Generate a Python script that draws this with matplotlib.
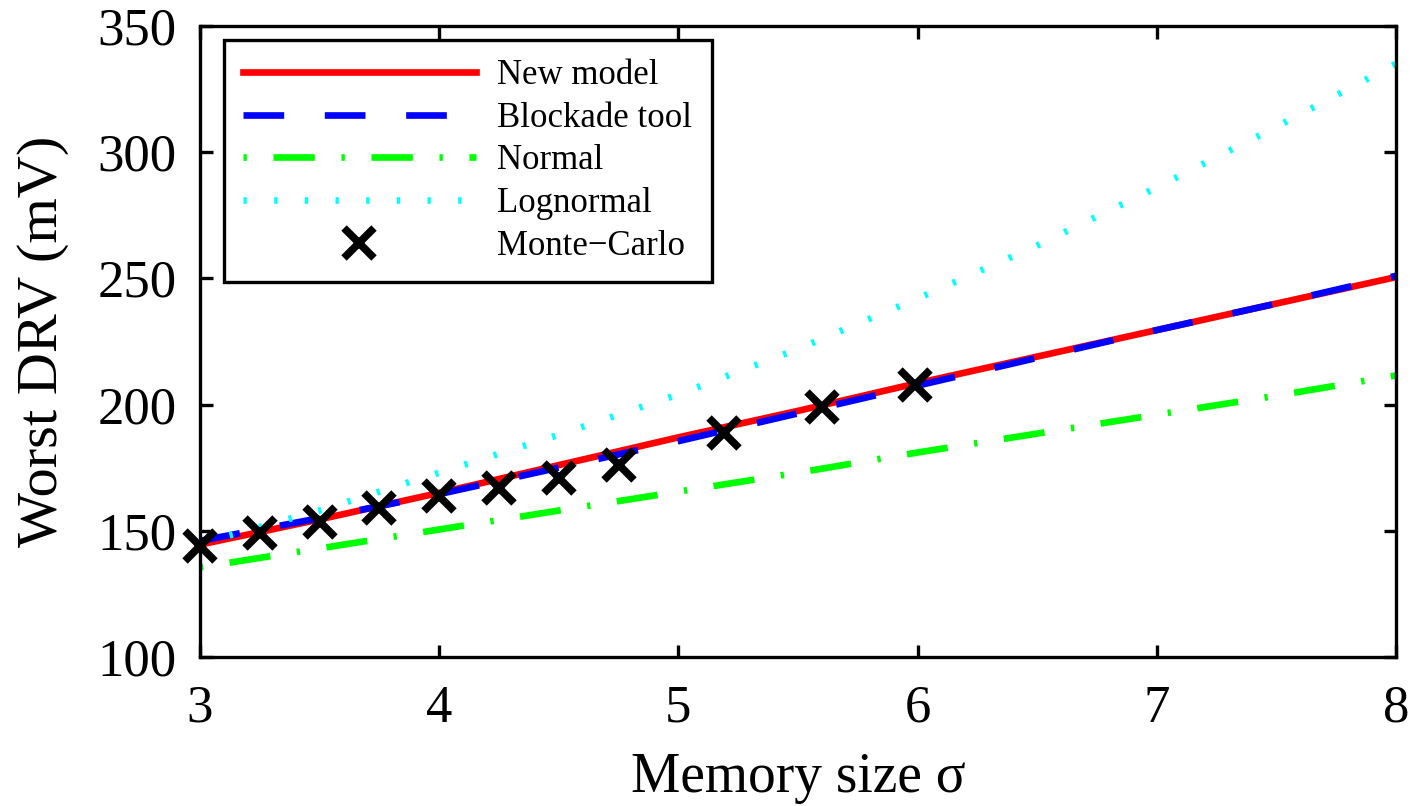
import numpy as np
import matplotlib
matplotlib.use('Agg')
from matplotlib import pyplot as plt

plt.rcParams['font.family'] = ['Liberation Serif', 'DejaVu Serif']

# curves sampled at these sigma values
sigma = [3.0, 3.5, 4.0, 4.5, 5.0, 5.5, 6.0, 6.5, 7.0, 7.5, 8.0]
new_model = [144.5, 154.5, 165.0, 176.0, 187.0, 197.5, 208.5, 219.0, 229.5, 240.0, 250.5]
blockade = [146.0, 155.0, 164.5, 175.0, 185.5, 196.5, 207.5, 218.5, 229.5, 240.0, 251.0]
normal = [135.5, 143.0, 150.5, 158.0, 165.5, 173.0, 181.0, 188.5, 196.0, 203.5, 211.5]
lognormal = [145.0, 158.0, 173.0, 188.0, 204.0, 222.0, 242.0, 263.0, 286.0, 310.0, 335.0]

# Monte-Carlo points
mc_sigma = [3.0, 3.25, 3.5, 3.75, 4.0, 4.25, 4.5, 4.75, 5.19, 5.6, 5.99]
mc_drv = [144.0, 149.0, 153.6, 158.9, 163.8, 166.8, 170.8, 176.1, 188.9, 198.9, 207.8]

fig = plt.figure(figsize=(14.1, 8.06), dpi=100)
ax = fig.add_axes([0.1418, 0.1849, 0.8482, 0.7829])

lw = 4.8
ax.plot(sigma, new_model, color='#ff0000', lw=lw, label='New model')
ax.plot(sigma, blockade, color='#0000ff', lw=lw, dashes=(6.1, 6.1),
        dash_capstyle='butt', label='Blockade tool')
ax.plot(sigma, normal, color='#00ff00', lw=lw, dashes=(0.5, 4.0, 6.2, 4.0),
        dash_capstyle='butt', label='Normal')
ax.plot(sigma, lognormal, color='#00ffff', lw=lw, dashes=(0.5, 4.1),
        dash_capstyle='butt', label='Lognormal')
ax.plot(mc_sigma, mc_drv, ls='none', marker='x', color='k', ms=21, mew=5.5,
        label='Monte\u2212Carlo', clip_on=False, zorder=5)

ax.set_xlim(3, 8)
ax.set_ylim(100, 350)
ax.set_xticks([3, 4, 5, 6, 7, 8])
ax.set_yticks([100, 150, 200, 250, 300, 350])
ax.tick_params(direction='in', length=9, width=2.4, labelsize=38,
               top=True, right=True)
ax.tick_params(axis='x', pad=20)
ax.tick_params(axis='y', pad=17)
for s in ax.spines.values():
    s.set_linewidth(2.4)
ax.set_xlabel('Memory size \u03c3', fontsize=40, labelpad=14)
ax.set_ylabel('Worst DRV (mV)', fontsize=42, labelpad=20)

leg = ax.legend(loc='upper left', bbox_to_anchor=(0.02, 0.978), fontsize=25,
                handlelength=6.7, handletextpad=0.63, borderpad=0.55,
                borderaxespad=0, labelspacing=0.28, fancybox=False,
                edgecolor='k', framealpha=1)
leg.get_frame().set_linewidth(2.4)

fig.savefig('out.png', dpi=100)
